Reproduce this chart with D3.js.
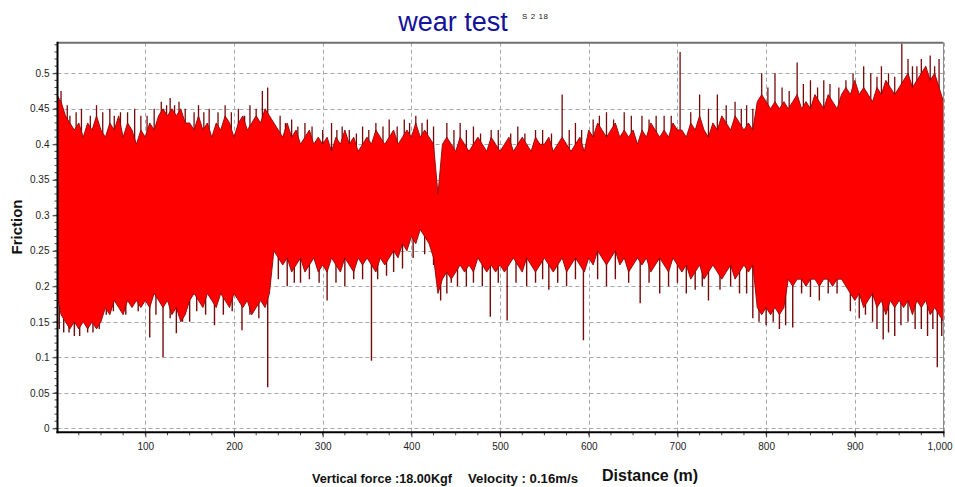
<!DOCTYPE html>
<html>
<head>
<meta charset="utf-8">
<script src="https://cdn.jsdelivr.net/npm/d3@7"></script>
<style>
  body { margin: 0; background: #fff; }
  svg { display: block; }
  text { font-family: Arial, "Liberation Sans", sans-serif; }
</style>
</head>
<body>
<div id="chart"></div>
<script>
// friction envelope, every 5 m (0 .. 1000)
const upper = [
  0.47, 0.46, 0.44, 0.43,
  0.42, 0.43, 0.41, 0.43, 0.42, 0.44, 0.42,
  0.41, 0.43, 0.42, 0.44, 0.41, 0.43, 0.42, 0.40, 0.42,
  0.41, 0.43, 0.42, 0.44, 0.45,
  0.44, 0.45, 0.44, 0.45, 0.43,
  0.43, 0.42, 0.44, 0.42, 0.43, 0.41, 0.43, 0.42, 0.44, 0.43, 0.41, 0.43, 0.44, 0.42, 0.43, 0.44, 0.43, 0.45,
  0.44, 0.43, 0.42, 0.41, 0.43, 0.41, 0.42, 0.40, 0.41, 0.42, 0.40, 0.41,
  0.40, 0.41, 0.39, 0.41, 0.40, 0.42, 0.40, 0.41, 0.39, 0.40, 0.41, 0.40, 0.42, 0.41, 0.40, 0.41, 0.42, 0.40, 0.41, 0.42, 0.41, 0.43, 0.41, 0.42, 0.41, 0.40,
  0.33,
  0.40, 0.41, 0.40, 0.39, 0.41, 0.40, 0.39, 0.40, 0.41, 0.40, 0.39, 0.41, 0.40, 0.39,
  0.40, 0.41, 0.39, 0.40, 0.41, 0.40, 0.39, 0.41, 0.40, 0.40, 0.41, 0.39, 0.40, 0.41, 0.40, 0.39, 0.40, 0.41, 0.39,
  0.42, 0.41, 0.43, 0.42, 0.41, 0.42, 0.43, 0.41, 0.42, 0.41, 0.42, 0.40, 0.42, 0.41, 0.43, 0.42, 0.41, 0.42, 0.41, 0.43, 0.42,
  0.42, 0.41, 0.43, 0.42, 0.44, 0.42, 0.41, 0.43, 0.42, 0.44, 0.43, 0.42, 0.44, 0.43, 0.42, 0.43, 0.42,
  0.46, 0.47, 0.46, 0.45, 0.46, 0.45, 0.46,
  0.45, 0.46, 0.47, 0.45, 0.46, 0.45, 0.47, 0.46, 0.45, 0.47, 0.46, 0.45,
  0.47, 0.48, 0.47, 0.49, 0.47, 0.48, 0.47, 0.46, 0.48, 0.47, 0.49, 0.48, 0.47, 0.48,
  0.49, 0.50, 0.48, 0.49, 0.50, 0.51, 0.49, 0.50, 0.48, 0.46
];
const lower = [
  0.19, 0.16, 0.15, 0.14,
  0.15, 0.14, 0.15, 0.14, 0.15, 0.14, 0.15,
  0.17, 0.16, 0.18, 0.17, 0.16, 0.18, 0.17, 0.18, 0.17,
  0.18, 0.17, 0.19, 0.18, 0.17,
  0.18, 0.16, 0.17, 0.15, 0.16,
  0.18, 0.19, 0.18, 0.17, 0.19, 0.18, 0.17, 0.19, 0.18, 0.17, 0.19, 0.18, 0.17, 0.18, 0.16, 0.17, 0.18, 0.17,
  0.19, 0.25, 0.24, 0.23, 0.24, 0.22, 0.23, 0.24, 0.22, 0.23, 0.24, 0.22,
  0.23, 0.22, 0.24, 0.23, 0.22, 0.24, 0.23, 0.22, 0.24, 0.23, 0.24, 0.23, 0.22, 0.24, 0.23, 0.24, 0.25, 0.24, 0.26, 0.25, 0.27, 0.26, 0.28, 0.27, 0.26, 0.24,
  0.19,
  0.21, 0.22, 0.21, 0.22, 0.23, 0.22, 0.23, 0.22, 0.24, 0.23, 0.22, 0.23, 0.22, 0.23,
  0.22, 0.23, 0.24, 0.23, 0.22, 0.24, 0.23, 0.22, 0.23, 0.24, 0.23, 0.22, 0.23, 0.24, 0.22, 0.23, 0.24, 0.23, 0.22,
  0.24, 0.23, 0.25, 0.24, 0.23, 0.24, 0.25, 0.23, 0.24, 0.22, 0.23, 0.24, 0.23, 0.24, 0.22, 0.23, 0.24, 0.23, 0.22, 0.24, 0.23,
  0.22, 0.23, 0.21, 0.22, 0.23, 0.21, 0.22, 0.23, 0.22, 0.21, 0.22, 0.23, 0.21, 0.22, 0.23, 0.22, 0.23,
  0.17, 0.16, 0.17, 0.16, 0.17, 0.16, 0.17,
  0.21, 0.20, 0.21, 0.21, 0.20, 0.21, 0.21, 0.20, 0.21, 0.21, 0.20, 0.21,
  0.21, 0.20, 0.19, 0.18, 0.19, 0.17, 0.18, 0.19, 0.17, 0.18, 0.16, 0.18, 0.17, 0.18,
  0.17, 0.18, 0.16, 0.18, 0.17, 0.18, 0.16, 0.17, 0.16, 0.15
];
const distance = d3.range(0, 1001, 5);

// single spikes that stick out of the band [distance, friction]
const spikesUp = [
  [5, 0.475], [12, 0.455], [15, 0.44], [22, 0.445], [28, 0.45], [38, 0.44], [45, 0.455], [52, 0.445],
  [60, 0.45], [65, 0.44], [72, 0.445], [80, 0.445], [88, 0.45], [95, 0.44], [102, 0.44],
  [110, 0.45], [118, 0.46], [124, 0.455], [128, 0.465], [133, 0.455], [138, 0.46], [145, 0.45],
  [155, 0.445], [160, 0.455], [166, 0.445], [172, 0.45], [182, 0.445], [190, 0.455], [197, 0.445],
  [205, 0.45], [212, 0.44], [218, 0.455], [225, 0.45], [232, 0.475], [238, 0.48],
  [252, 0.44], [258, 0.43], [265, 0.435], [272, 0.425], [280, 0.43], [288, 0.425], [300, 0.42],
  [310, 0.43], [316, 0.42], [322, 0.425], [330, 0.42], [338, 0.415], [345, 0.425], [352, 0.42],
  [360, 0.43], [368, 0.425], [375, 0.435], [384, 0.425], [392, 0.435], [398, 0.43], [405, 0.44],
  [412, 0.43], [418, 0.435], [425, 0.425],
  [440, 0.43], [448, 0.42], [455, 0.43], [462, 0.42], [470, 0.425], [478, 0.415], [490, 0.42],
  [498, 0.42], [512, 0.415], [520, 0.425], [528, 0.415], [540, 0.42], [548, 0.42], [558, 0.415],
  [570, 0.47], [578, 0.42], [585, 0.43], [592, 0.42],
  [605, 0.435], [612, 0.44], [620, 0.445], [628, 0.435], [640, 0.445], [648, 0.44], [660, 0.44],
  [668, 0.435], [676, 0.44], [685, 0.44], [693, 0.44], [703, 0.53], [715, 0.445], [725, 0.47],
  [735, 0.45], [745, 0.47], [755, 0.455], [765, 0.46], [772, 0.45], [778, 0.455], [785, 0.45],
  [795, 0.50], [802, 0.48], [810, 0.50], [818, 0.48], [826, 0.475], [835, 0.515], [842, 0.485],
  [850, 0.49], [858, 0.48], [865, 0.49], [872, 0.485], [882, 0.48], [890, 0.49], [898, 0.5],
  [910, 0.51], [918, 0.5], [925, 0.495], [930, 0.51], [938, 0.5], [945, 0.495], [953, 0.542],
  [960, 0.52], [965, 0.51], [970, 0.51], [975, 0.52], [980, 0.505], [985, 0.525], [990, 0.51], [995, 0.52]
];
const spikesDown = [
  [3, 0.14], [8, 0.135], [14, 0.135], [20, 0.13], [26, 0.13], [35, 0.135], [41, 0.135], [48, 0.14],
  [56, 0.16], [64, 0.165], [78, 0.16], [92, 0.165], [105, 0.128], [112, 0.16], [120, 0.1],
  [128, 0.155], [135, 0.134], [142, 0.15], [150, 0.15], [158, 0.165], [168, 0.16], [178, 0.145],
  [188, 0.16], [198, 0.165], [209, 0.138], [218, 0.16], [228, 0.155], [238, 0.058],
  [250, 0.21], [260, 0.2], [268, 0.205], [275, 0.205], [285, 0.21], [296, 0.205], [305, 0.18],
  [315, 0.205], [325, 0.2], [335, 0.21], [345, 0.21], [355, 0.095], [362, 0.21], [372, 0.215],
  [380, 0.22], [390, 0.225], [402, 0.24], [415, 0.245], [425, 0.23], [433, 0.18],
  [440, 0.19], [445, 0.205], [452, 0.2], [462, 0.2], [470, 0.205], [480, 0.2], [489, 0.157],
  [498, 0.205], [508, 0.152], [518, 0.205], [530, 0.2], [540, 0.205], [548, 0.21], [555, 0.195],
  [565, 0.205], [575, 0.2], [585, 0.21], [594, 0.124],
  [610, 0.21], [620, 0.2], [630, 0.21], [645, 0.205], [658, 0.176], [668, 0.205], [680, 0.19],
  [690, 0.2], [700, 0.205], [710, 0.19], [720, 0.195], [728, 0.2], [735, 0.18], [748, 0.195],
  [760, 0.2], [770, 0.19], [778, 0.19], [785, 0.155],
  [792, 0.15], [800, 0.145], [808, 0.15], [815, 0.14], [822, 0.145], [830, 0.142], [840, 0.19],
  [850, 0.185], [860, 0.18], [870, 0.19], [880, 0.19], [895, 0.165], [905, 0.155], [912, 0.16],
  [920, 0.15], [925, 0.14], [932, 0.125], [938, 0.135], [945, 0.13], [952, 0.145], [960, 0.15],
  [968, 0.14], [975, 0.14], [982, 0.13], [988, 0.14], [993, 0.086], [998, 0.13]
];

const yTicks = [0, 0.05, 0.1, 0.15, 0.2, 0.25, 0.3, 0.35, 0.4, 0.45, 0.5];
const xTicks = [100, 200, 300, 400, 500, 600, 700, 800, 900, 1000];

const width = 955, height = 487;
const margin = {top: 42.7, right: 11.5, bottom: 54.7, left: 57.5};

let svg = d3.select("#chart").append("svg")
    .attr("width", width)
    .attr("height", height);

let x = d3.scaleLinear().domain([1, 1000]).range([margin.left, width - margin.right]);
let y = d3.scaleLinear().domain([-0.0056, 0.543]).range([height - margin.bottom, margin.top]);

svg.append("clipPath").attr("id", "plotclip")
  .append("rect")
    .attr("x", margin.left).attr("y", margin.top)
    .attr("width", width - margin.left - margin.right)
    .attr("height", height - margin.top - margin.bottom);

//dashed grid
let grid = svg.append("g").attr("stroke", "#a8a8a8").attr("stroke-dasharray", "4,3").attr("stroke-width", 1);
grid.selectAll(".hg").data(yTicks).enter().append("line")
    .attr("x1", margin.left).attr("x2", width - margin.right)
    .attr("y1", d => Math.round(y(d)) + 0.5).attr("y2", d => Math.round(y(d)) + 0.5);
grid.selectAll(".vg").data(xTicks).enter().append("line")
    .attr("y1", margin.top).attr("y2", height - margin.bottom)
    .attr("x1", d => Math.round(x(d)) + 0.5).attr("x2", d => Math.round(x(d)) + 0.5);

let plot = svg.append("g").attr("clip-path", "url(#plotclip)");

//spikes first, the band covers their inner part
plot.selectAll(".up").data(spikesUp).enter().append("line")
    .attr("x1", d => x(d[0])).attr("x2", d => x(d[0]))
    .attr("y1", d => y(d[1])).attr("y2", y(0.31))
    .attr("stroke", "#760a0a").attr("stroke-width", 1.3);
plot.selectAll(".down").data(spikesDown).enter().append("line")
    .attr("x1", d => x(d[0])).attr("x2", d => x(d[0]))
    .attr("y1", d => y(d[1])).attr("y2", y(0.31))
    .attr("stroke", "#760a0a").attr("stroke-width", 1.4);

let area = d3.area()
    .x((d, i) => x(distance[i]))
    .y0((d, i) => y(lower[i]))
    .y1((d, i) => y(upper[i]));

plot.append("path")
    .datum(upper)
    .attr("d", area)
    .attr("fill", "#ff0000");

let edge = v => d3.line().x((d, i) => x(distance[i])).y(d => y(d))(v);
plot.append("path").attr("d", edge(upper)).attr("fill", "none").attr("stroke", "#8e0808").attr("stroke-width", 0.9);
plot.append("path").attr("d", edge(lower)).attr("fill", "none").attr("stroke", "#8e0808").attr("stroke-width", 0.9);

//frame: gray top/right, black left/bottom
svg.append("line").attr("x1", margin.left).attr("x2", width - margin.right)
    .attr("y1", margin.top).attr("y2", margin.top).attr("stroke", "#707070").attr("stroke-width", 2);
svg.append("line").attr("x1", width - margin.right).attr("x2", width - margin.right)
    .attr("y1", margin.top).attr("y2", height - margin.bottom).attr("stroke", "#8a8a8a").attr("stroke-width", 1);

//y axis
let yAxis = svg.append("g").attr("transform", `translate(${margin.left},0)`)
    .call(d3.axisLeft(y).tickValues(yTicks).tickSize(5).tickPadding(3).tickFormat(d3.format("~g")));
yAxis.select(".domain").remove();
yAxis.selectAll("text").attr("font-size", 10).attr("fill", "#222").attr("font-family", "Arial, 'Liberation Sans', sans-serif");
yAxis.selectAll(".tick line").attr("stroke", "#333");
svg.append("g").selectAll("line").data(d3.range(0, 0.541, 0.01)).enter().append("line")
    .attr("x1", margin.left - 3).attr("x2", margin.left)
    .attr("y1", d => y(d)).attr("y2", d => y(d)).attr("stroke", "#444");
svg.append("line").attr("x1", margin.left).attr("x2", margin.left)
    .attr("y1", margin.top - 1).attr("y2", height - margin.bottom + 1).attr("stroke", "#000").attr("stroke-width", 2);

//x axis
let xAxis = svg.append("g").attr("transform", `translate(0,${height - margin.bottom})`)
    .call(d3.axisBottom(x).tickValues(xTicks).tickSize(5).tickPadding(6).tickFormat(d3.format(",")));
xAxis.select(".domain").remove();
xAxis.selectAll("text").attr("font-size", 10).attr("fill", "#222").attr("font-family", "Arial, 'Liberation Sans', sans-serif");
xAxis.selectAll("text").filter(d => d === 1000).attr("dx", -4);
xAxis.selectAll(".tick line").attr("stroke", "#333");
svg.append("g").selectAll("line").data(d3.range(25, 1001, 25)).enter().append("line")
    .attr("x1", d => x(d)).attr("x2", d => x(d))
    .attr("y1", height - margin.bottom).attr("y2", height - margin.bottom + 3).attr("stroke", "#444");
svg.append("line").attr("x1", margin.left - 1).attr("x2", width - margin.right + 1)
    .attr("y1", height - margin.bottom).attr("y2", height - margin.bottom).attr("stroke", "#000").attr("stroke-width", 2);

//titles
svg.append("text").attr("x", 453).attr("y", 31).attr("text-anchor", "middle")
    .attr("font-size", 27).attr("fill", "#12129a").text("wear test");
svg.append("text").attr("x", 522).attr("y", 19)
    .attr("font-size", 8).attr("font-family", "'Liberation Serif', serif").attr("fill", "#222")
    .attr("textLength", 26).attr("lengthAdjust", "spacing").text("S 2 18");

svg.append("text")
    .attr("transform", "translate(22,227) rotate(-90)")
    .attr("text-anchor", "middle").attr("font-size", 15).attr("font-weight", "bold").attr("fill", "#111")
    .text("Friction");

svg.append("text").attr("x", 602).attr("y", 481)
    .attr("font-size", 16).attr("font-weight", "bold").attr("fill", "#111").text("Distance (m)");

svg.append("text").attr("x", 312).attr("y", 483)
    .attr("font-size", 12.5).attr("font-weight", "bold").attr("fill", "#111")
    .attr("textLength", 140).attr("lengthAdjust", "spacingAndGlyphs")
    .text("Vertical force :18.00Kgf");
svg.append("text").attr("x", 468).attr("y", 483)
    .attr("font-size", 12.5).attr("font-weight", "bold").attr("fill", "#111")
    .attr("textLength", 110).attr("lengthAdjust", "spacingAndGlyphs")
    .text("Velocity :  0.16m/s");
</script>
</body>
</html>
